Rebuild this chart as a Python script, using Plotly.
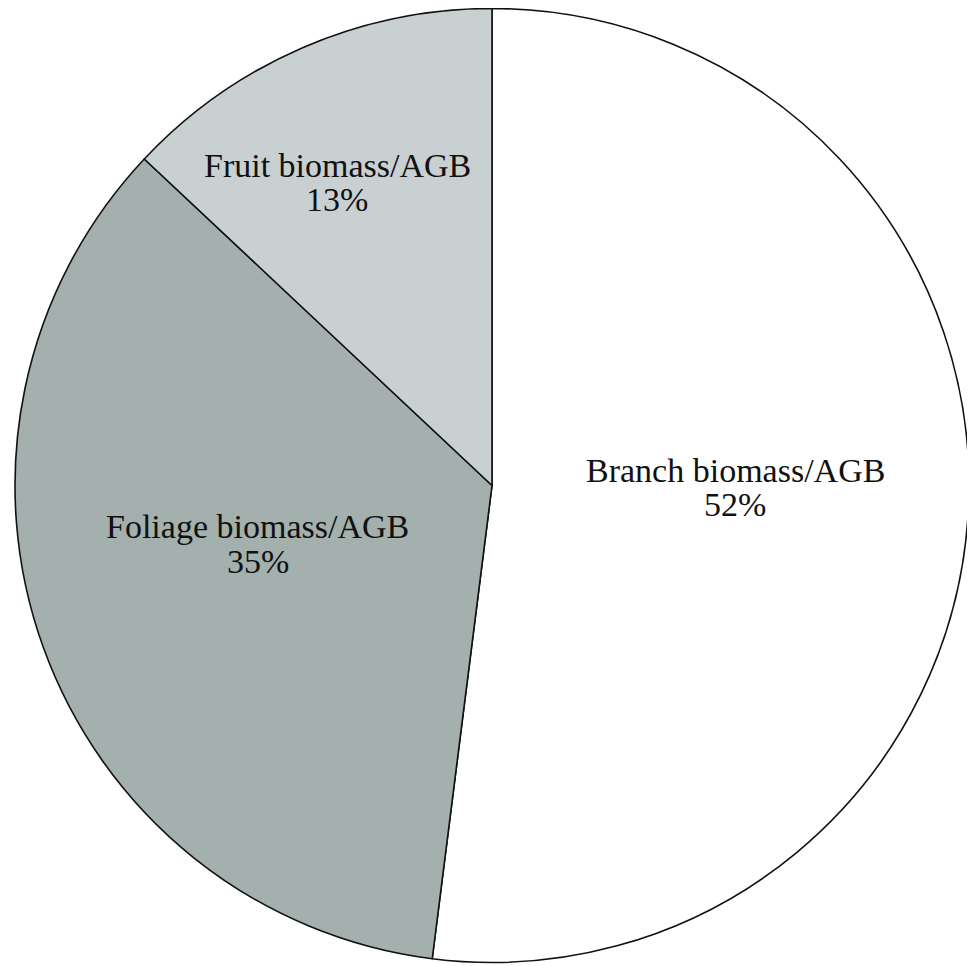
import plotly.graph_objects as go

labels = ["Branch biomass/AGB", "Foliage biomass/AGB", "Fruit biomass/AGB"]
values = [52, 35, 13]

colors = ["#ffffff", "#a3b0ae", "#c9d0d1"]
W, H = 975, 966
OFF = 8  # page body margin offset in the browser

# text anchor (picture pixel coords: center x, first-line center y)
text_pos = {
    "Branch biomass/AGB": (735, 470),
    "Foliage biomass/AGB": (258, 526),
    "Fruit biomass/AGB": (337, 165),
}
LINE_GAP = 35

fig = go.Figure(go.Pie(
    labels=labels,
    values=values,
    sort=False,
    direction="clockwise",
    rotation=0,
    marker=dict(colors=colors, line=dict(color="#111111", width=1.6)),
    textinfo="none",
    hoverinfo="label+percent",
    domain=dict(x=[(15 - OFF) / W, (969 - OFF) / W],
                y=[1 - (963 - OFF) / H, 1 - (8 - OFF) / H]),
    showlegend=False,
))

font = dict(family="Liberation Serif", size=34, color="#111111")
total = sum(values)
for lab, v in zip(labels, values):
    px, py = text_pos[lab]
    for i, line in enumerate([lab, f"{round(100 * v / total)}%"]):
        fig.add_annotation(
            x=(px - OFF) / W, y=1 - (py + i * LINE_GAP - OFF) / H,
            xref="paper", yref="paper",
            text=line, showarrow=False, font=font,
            xanchor="center", yanchor="middle",
        )

fig.update_layout(
    width=W, height=H,
    margin=dict(l=0, r=0, t=0, b=0),
    paper_bgcolor="white",
    plot_bgcolor="white",
)

fig.write_html("out.html")
